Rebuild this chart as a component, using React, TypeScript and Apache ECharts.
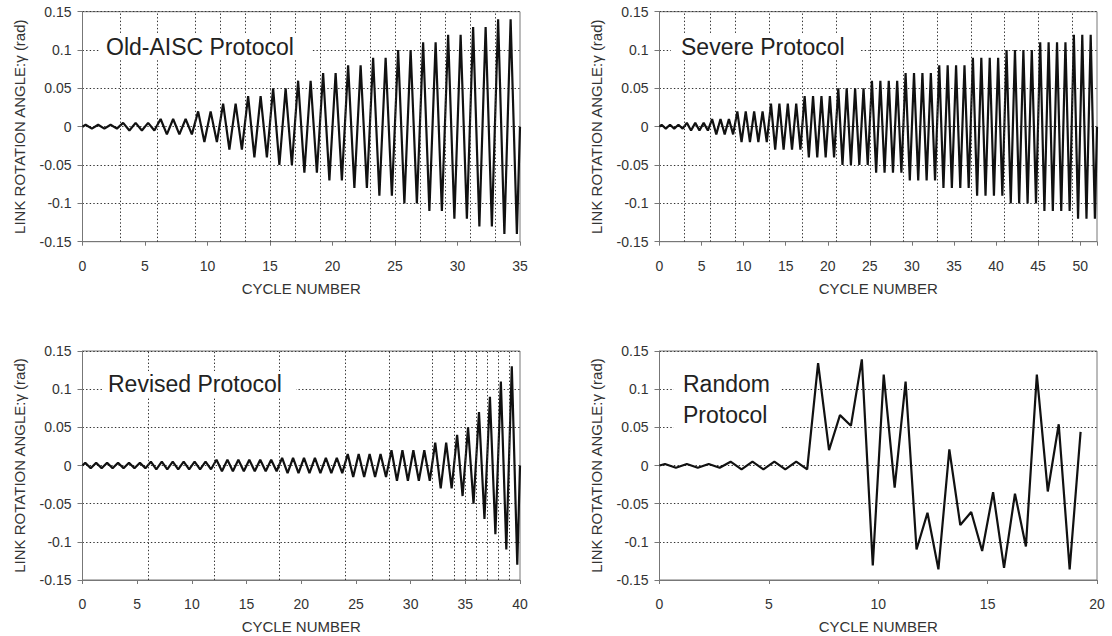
import React, { useEffect, useRef } from "react";
import * as echarts from "echarts";

// ---- Data (amplitude of each loading cycle, rad) ----
const oldAiscAmplitudes = [
  0.0025, 0.0025, 0.0025, 0.005, 0.005, 0.005, 0.01, 0.01, 0.01,
  0.02, 0.02, 0.03, 0.03, 0.04, 0.04, 0.05, 0.05, 0.06, 0.06, 0.07, 0.07,
  0.08, 0.08, 0.09, 0.09, 0.1, 0.1, 0.11, 0.11, 0.12, 0.12, 0.13, 0.13, 0.14, 0.14,
];
const oldAiscSteps = [3, 6, 9, 11, 13, 15, 17, 19, 21, 23, 25, 27, 29, 31, 33];

const severeAmplitudes = [
  0.0025, 0.0025, 0.0025, 0.005, 0.005, 0.005, 0.01, 0.01, 0.01,
  0.02, 0.02, 0.02, 0.02, 0.03, 0.03, 0.03, 0.03, 0.04, 0.04, 0.04, 0.04,
  0.05, 0.05, 0.05, 0.05, 0.06, 0.06, 0.06, 0.06, 0.07, 0.07, 0.07, 0.07,
  0.08, 0.08, 0.08, 0.08, 0.09, 0.09, 0.09, 0.09, 0.1, 0.1, 0.1, 0.1,
  0.11, 0.11, 0.11, 0.11, 0.12, 0.12, 0.12,
];
const severeSteps = [3, 6, 9, 13, 17, 21, 25, 29, 33, 37, 41, 45, 49];

const revisedAmplitudes = [
  0.00375, 0.00375, 0.00375, 0.00375, 0.00375, 0.00375,
  0.005, 0.005, 0.005, 0.005, 0.005, 0.005,
  0.0075, 0.0075, 0.0075, 0.0075, 0.0075, 0.0075,
  0.01, 0.01, 0.01, 0.01, 0.01, 0.01,
  0.015, 0.015, 0.015, 0.015, 0.02, 0.02, 0.02, 0.02,
  0.03, 0.03, 0.04, 0.05, 0.07, 0.09, 0.11, 0.13,
];
const revisedSteps = [6, 12, 18, 24, 28, 32, 34, 35, 36, 37, 38, 39];

const randomCycle = [
  0, 0.25, 0.75, 1.25, 1.75, 2.25, 2.75, 3.25, 3.75, 4.25, 4.75, 5.25, 5.75,
  6.25, 6.75, 7.25, 7.75, 8.25, 8.75, 9.25, 9.75, 10.25, 10.75, 11.25, 11.75,
  12.25, 12.75, 13.25, 13.75, 14.25, 14.75, 15.25, 15.75, 16.25, 16.75, 17.25,
  17.75, 18.25, 18.75, 19.25,
];
const randomAngle = [
  0, 0.002, -0.003, 0.002, -0.003, 0.002, -0.003, 0.005, -0.005, 0.005, -0.005,
  0.005, -0.005, 0.005, -0.005, 0.134, 0.02, 0.066, 0.052, 0.139, -0.131, 0.119,
  -0.029, 0.11, -0.11, -0.062, -0.136, 0.021, -0.078, -0.061, -0.112, -0.035,
  -0.134, -0.037, -0.106, 0.119, -0.034, 0.054, -0.136, 0.044,
];

const xMaxima = [35, 52, 40, 20];
const yMin = -0.15;
const yMax = 0.15;
const yStep = 0.05;
const xStep = 5;

const titles = ["Old-AISC Protocol", "Severe Protocol", "Revised Protocol"];
const randomTitle = ["Random", "Protocol"];
const xName = "CYCLE NUMBER";
const yName = "LINK ROTATION ANGLE:\u03b3 (rad)";

function cyclePoints(amps: number[]): number[][] {
  const pts: number[][] = [[0, 0]];
  amps.forEach((a, i) => {
    pts.push([i + 0.25, a]);
    pts.push([i + 0.75, -a]);
  });
  pts.push([amps.length, 0]);
  return pts;
}

const FONT = "'Liberation Sans', Arial, Helvetica, sans-serif";
const AXIS_COLOR = "#777";
const TEXT_COLOR = "#333";
const GRID_COLOR = "#333";
const GRID_DASH = [1.4, 2.2];

export default function App() {
  const ref = useRef<HTMLDivElement>(null);

  useEffect(() => {
    if (!ref.current) return;
    const chart = echarts.init(ref.current, undefined, { renderer: "svg" });

    const grids = [
      { left: 82.5, top: 11.7, width: 437.5, height: 230 },
      { left: 659.5, top: 11.7, width: 437.5, height: 230 },
      { left: 82.5, top: 351, width: 437.5, height: 229 },
      { left: 659.5, top: 351, width: 437.5, height: 229 },
    ].map((g) => ({ ...g, show: true, borderColor: AXIS_COLOR, borderWidth: 1, backgroundColor: "transparent" }));

    const xAxes = xMaxima.map((mx, i) => ({
      type: "value",
      gridIndex: i,
      min: 0,
      max: mx,
      interval: xStep,
      name: xName,
      nameLocation: "middle",
      nameGap: 39,
      nameTextStyle: { fontSize: 15, color: TEXT_COLOR, fontFamily: FONT },
      axisLine: { show: true, onZero: false, lineStyle: { color: AXIS_COLOR, width: 1 } },
      axisTick: { show: true, length: 4, lineStyle: { color: AXIS_COLOR } },
      axisLabel: {
        fontSize: 14,
        color: TEXT_COLOR,
        fontFamily: FONT,
        margin: 17,
        formatter: (v: number) => (Math.abs(v % xStep) < 1e-9 ? String(v) : ""),
      },
      splitLine: { show: false },
    }));

    const yAxes = [0, 1, 2, 3].map((i) => ({
      type: "value",
      gridIndex: i,
      min: yMin,
      max: yMax,
      interval: yStep,
      name: yName,
      nameLocation: "middle",
      nameGap: 56,
      nameTextStyle: { fontSize: 15, color: TEXT_COLOR, fontFamily: FONT },
      axisLine: { show: true, onZero: false, lineStyle: { color: AXIS_COLOR, width: 1 } },
      axisTick: { show: true, length: 5, lineStyle: { color: AXIS_COLOR } },
      axisLabel: { fontSize: 14, color: TEXT_COLOR, fontFamily: FONT, margin: 11 },
      splitLine: { show: true, lineStyle: { color: GRID_COLOR, width: 1, type: GRID_DASH } },
    }));

    const stepLines = (steps: number[]) => ({
      silent: true,
      symbol: "none",
      label: { show: false },
      lineStyle: { color: GRID_COLOR, width: 1, type: GRID_DASH },
      data: steps.map((s) => ({ xAxis: s })),
    });

    const lineStyle = { color: "#111", width: 2.2 };
    const datasets = [
      { data: cyclePoints(oldAiscAmplitudes), steps: oldAiscSteps },
      { data: cyclePoints(severeAmplitudes), steps: severeSteps },
      { data: cyclePoints(revisedAmplitudes), steps: revisedSteps },
      { data: randomCycle.map((c, i) => [c, randomAngle[i]]), steps: [] as number[] },
    ];

    const series = datasets.map((d, i) => ({
      type: "line",
      xAxisIndex: i,
      yAxisIndex: i,
      data: d.data,
      showSymbol: false,
      symbol: "none",
      lineStyle,
      clip: true,
      markLine: d.steps.length ? stepLines(d.steps) : undefined,
    }));

    const titleFont = `23px ${FONT}`;
    const box = (x: number, y: number, w: number, h: number) => ({
      type: "rect",
      z: 100,
      shape: { x, y, width: w, height: h },
      style: { fill: "#fff" },
    });
    const label = (text: string, x: number, y: number) => ({
      type: "text",
      z: 101,
      x,
      y,
      style: { text, font: titleFont, fill: "#222", verticalAlign: "middle", textAlign: "left" },
    });

    const graphic = [
      box(99, 34, 212, 26),
      label(titles[0], 106, 47),
      box(671, 34, 189, 26),
      label(titles[1], 681, 47),
      box(103, 371, 193, 26),
      label(titles[2], 108, 384),
      box(674, 368, 107, 62),
      label(randomTitle[0], 683, 384),
      label(randomTitle[1], 683, 415),
    ];

    chart.setOption({
      animation: false,
      backgroundColor: "#fff",
      textStyle: { fontFamily: FONT },
      grid: grids,
      xAxis: xAxes,
      yAxis: yAxes,
      series,
      graphic,
    });

    return () => chart.dispose();
  }, []);

  return (
    <div
      ref={ref}
      style={{ position: "absolute", left: 0, top: 0, width: 1112, height: 636, background: "#fff" }}
    />
  );
}
